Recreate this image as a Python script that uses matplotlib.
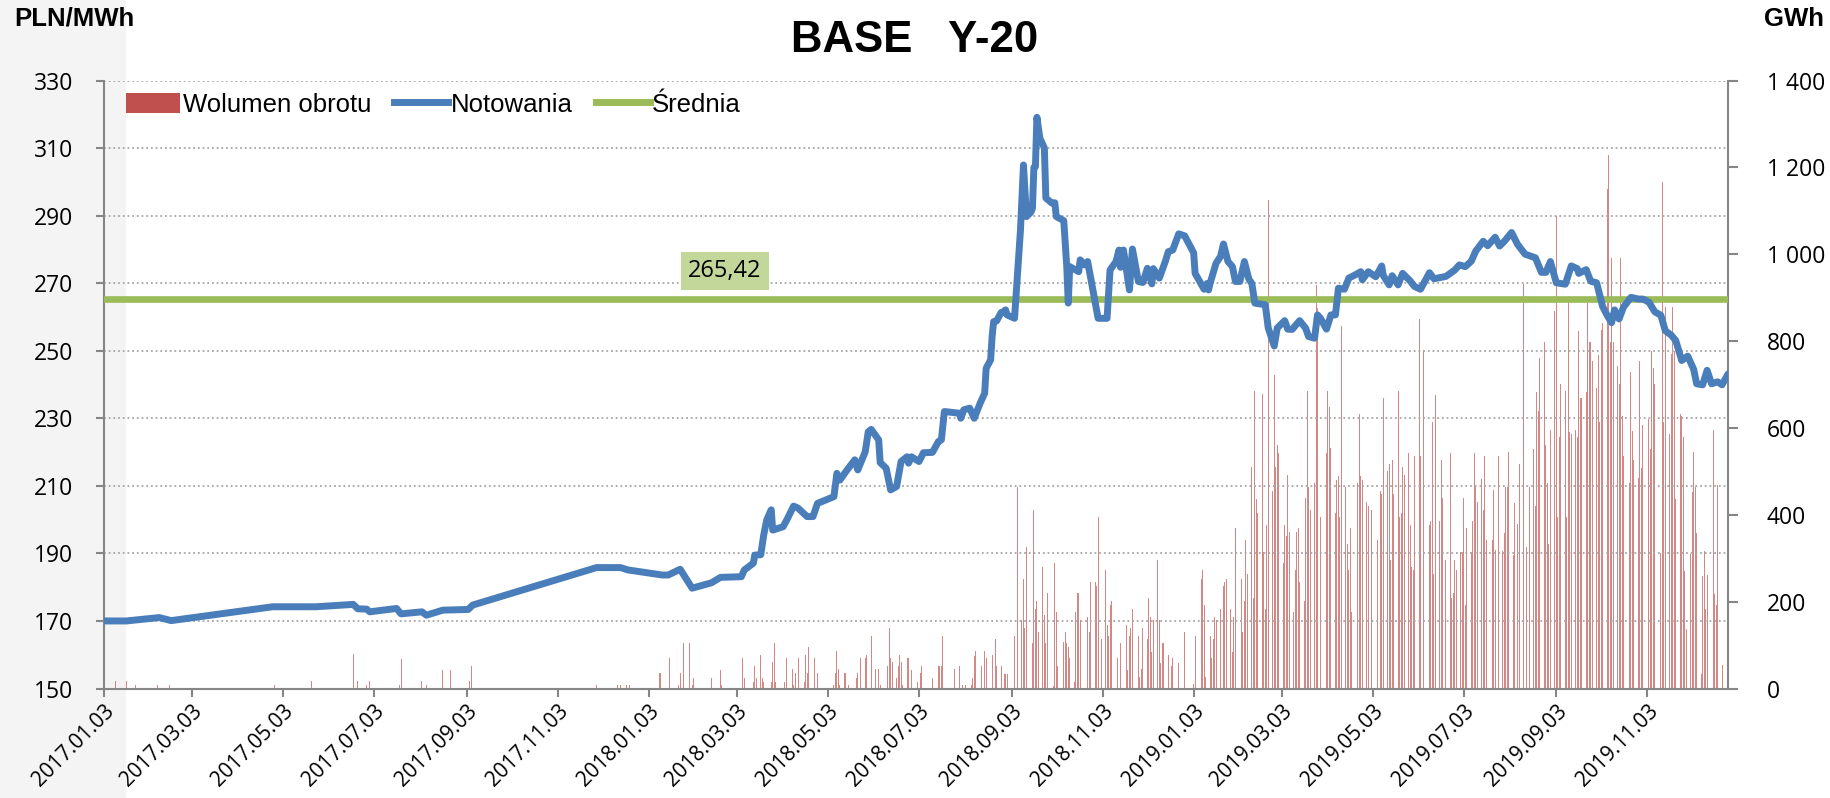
import numpy as np
import pandas as pd
import matplotlib
matplotlib.use('Agg')
import matplotlib.pyplot as plt
import matplotlib.dates as mdates
from matplotlib import font_manager
from matplotlib.lines import Line2D
from matplotlib.patches import Patch, Rectangle
from matplotlib.ticker import FuncFormatter

# Notowania BASE Y-20 [PLN/MWh]
price_dates = [
    '2017-01-03', '2017-01-18', '2017-02-09', '2017-02-17', '2017-04-26', '2017-05-25',
    '2017-06-19', '2017-06-22', '2017-06-28', '2017-06-30', '2017-07-18', '2017-07-21',
    '2017-08-04', '2017-08-07', '2017-08-18', '2017-09-04', '2017-09-07', '2017-11-29',
    '2017-12-15', '2017-12-20', '2018-01-12', '2018-01-16', '2018-01-24', '2018-02-01',
    '2018-02-14', '2018-02-20', '2018-03-06', '2018-03-08', '2018-03-14', '2018-03-15',
    '2018-03-19', '2018-03-21', '2018-03-23', '2018-03-26', '2018-03-27', '2018-04-03',
    '2018-04-06', '2018-04-10', '2018-04-13', '2018-04-19', '2018-04-23', '2018-04-26',
    '2018-05-07', '2018-05-09', '2018-05-11', '2018-05-15', '2018-05-21', '2018-05-23',
    '2018-05-28', '2018-05-30', '2018-06-01', '2018-06-06', '2018-06-07', '2018-06-11',
    '2018-06-14', '2018-06-18', '2018-06-21', '2018-06-25', '2018-06-26', '2018-06-28',
    '2018-07-03', '2018-07-06', '2018-07-12', '2018-07-16', '2018-07-18', '2018-07-20',
    '2018-07-30', '2018-07-31', '2018-08-02', '2018-08-06', '2018-08-09', '2018-08-13',
    '2018-08-16', '2018-08-17', '2018-08-20', '2018-08-21', '2018-08-22', '2018-08-24',
    '2018-08-27', '2018-08-28', '2018-08-30', '2018-08-31', '2018-09-05', '2018-09-07',
    '2018-09-09', '2018-09-11', '2018-09-13', '2018-09-16', '2018-09-17', '2018-09-18',
    '2018-09-19', '2018-09-20', '2018-09-22', '2018-09-25', '2018-09-26', '2018-09-30',
    '2018-10-02', '2018-10-03', '2018-10-08', '2018-10-10', '2018-10-11', '2018-10-12',
    '2018-10-18', '2018-10-19', '2018-10-22', '2018-10-24', '2018-10-31', '2018-11-06',
    '2018-11-08', '2018-11-12', '2018-11-14', '2018-11-15', '2018-11-17', '2018-11-21',
    '2018-11-23', '2018-11-27', '2018-11-30', '2018-12-03', '2018-12-06', '2018-12-07',
    '2018-12-11', '2018-12-15', '2018-12-17', '2018-12-20', '2018-12-24', '2018-12-28',
    '2019-01-03', '2019-01-04', '2019-01-10', '2019-01-12', '2019-01-13', '2019-01-14',
    '2019-01-18', '2019-01-21', '2019-01-23', '2019-01-26', '2019-01-29', '2019-01-31',
    '2019-02-03', '2019-02-06', '2019-02-09', '2019-02-11', '2019-02-13', '2019-02-20',
    '2019-02-22', '2019-02-26', '2019-02-28', '2019-03-05', '2019-03-07', '2019-03-10',
    '2019-03-15', '2019-03-19', '2019-03-21', '2019-03-25', '2019-03-27', '2019-03-29',
    '2019-04-02', '2019-04-05', '2019-04-08', '2019-04-10', '2019-04-14', '2019-04-17',
    '2019-04-21', '2019-04-25', '2019-04-26', '2019-04-30', '2019-05-05', '2019-05-09',
    '2019-05-10', '2019-05-14', '2019-05-16', '2019-05-20', '2019-05-23', '2019-05-28',
    '2019-05-31', '2019-06-04', '2019-06-10', '2019-06-13', '2019-06-21', '2019-06-27',
    '2019-06-30', '2019-07-04', '2019-07-08', '2019-07-11', '2019-07-16', '2019-07-19',
    '2019-07-24', '2019-07-27', '2019-07-30', '2019-08-04', '2019-08-08', '2019-08-13',
    '2019-08-20', '2019-08-24', '2019-08-27', '2019-08-30', '2019-09-03', '2019-09-09',
    '2019-09-13', '2019-09-17', '2019-09-18', '2019-09-23', '2019-09-26', '2019-09-30',
    '2019-10-04', '2019-10-07', '2019-10-10', '2019-10-12', '2019-10-15', '2019-10-18',
    '2019-10-23', '2019-10-28', '2019-10-31', '2019-11-04', '2019-11-08', '2019-11-12',
    '2019-11-15', '2019-11-19', '2019-11-22', '2019-11-26', '2019-11-30', '2019-12-04',
    '2019-12-06', '2019-12-10', '2019-12-13', '2019-12-16', '2019-12-20', '2019-12-23',
    '2019-12-27',
]
price_vals = [
    170.0, 170.0, 171.0, 170.1, 174.2, 174.2,
    174.9, 173.6, 173.5, 172.7, 173.7, 172.1,
    172.7, 171.7, 173.2, 173.4, 174.7, 185.8,
    185.8, 185.1, 183.6, 183.6, 185.3, 179.7,
    181.3, 182.9, 183.1, 185.1, 187.1, 189.5,
    189.6, 195.5, 199.9, 202.9, 196.9, 197.9,
    200.4, 204.0, 203.4, 200.9, 200.9, 204.8,
    206.8, 213.7, 211.7, 214.2, 217.7, 214.7,
    220.1, 226.0, 226.7, 223.6, 216.9, 215.2,
    208.8, 209.8, 217.2, 218.6, 216.7, 218.6,
    217.2, 219.8, 219.9, 223.1, 223.6, 232.0,
    231.5, 230.0, 232.5, 233.0, 230.0, 234.5,
    237.4, 244.8, 247.3, 254.2, 258.6, 258.8,
    261.3, 261.3, 262.1, 260.6, 259.6, 272.5,
    285.8, 305.0, 289.7, 291.0, 292.2, 304.3,
    304.5, 319.1, 312.9, 310.0, 295.2, 293.7,
    293.8, 289.7, 288.5, 274.9, 264.1, 274.9,
    273.4, 276.9, 275.4, 276.4, 259.6, 259.6,
    273.9, 276.4, 279.8, 274.7, 279.8, 268.0,
    280.1, 270.5, 270.2, 274.4, 269.8, 274.3,
    271.5, 276.4, 279.3, 279.8, 284.6, 284.0,
    279.0, 272.9, 268.2, 269.9, 268.0, 269.9,
    275.9, 277.9, 281.6, 276.4, 274.9, 270.5,
    270.5, 276.4, 271.2, 269.9, 264.1, 263.6,
    256.7, 251.4, 256.7, 258.9, 256.4, 256.3,
    258.9, 256.7, 254.2, 253.7, 260.6, 259.6,
    256.4, 260.6, 260.6, 268.5, 268.2, 271.5,
    272.4, 273.4, 271.0, 273.4, 271.9, 275.1,
    272.3, 269.5, 272.2, 269.5, 272.9, 270.7,
    269.0, 268.2, 273.1, 271.3, 272.0, 273.9,
    275.4, 274.9, 276.5, 279.5, 282.4, 281.1,
    283.6, 281.0, 282.3, 285.0, 281.5, 278.6,
    277.5, 273.2, 273.2, 276.4, 270.1, 269.7,
    275.1, 274.3, 272.9, 274.0, 270.6, 270.1,
    263.1, 260.5, 258.3, 262.1, 259.4, 262.9,
    265.8, 265.3, 265.3, 264.4, 261.5, 260.5,
    255.9, 254.6, 253.0, 247.1, 248.4, 244.5,
    240.2, 239.9, 244.2, 240.2, 240.8, 239.9,
    243.1,
]
avg_price = 265.42

# Wolumen obrotu [GWh] - okres z pojedynczymi transakcjami
sparse_dates = [
    '2017-01-03', '2017-01-11', '2017-01-18', '2017-01-24', '2017-02-08', '2017-02-16',
    '2017-04-27', '2017-05-22', '2017-06-19', '2017-06-22', '2017-06-28', '2017-06-30',
    '2017-07-20', '2017-07-21', '2017-08-04', '2017-08-07', '2017-08-18', '2017-08-23',
    '2017-09-05', '2017-09-06', '2017-11-29', '2017-12-13', '2017-12-15', '2017-12-19',
    '2017-12-21', '2018-01-10', '2018-01-11', '2018-01-17', '2018-01-23', '2018-01-24',
    '2018-01-26', '2018-01-30', '2018-02-01', '2018-02-02', '2018-02-14', '2018-02-15',
    '2018-02-20', '2018-02-21', '2018-03-07', '2018-03-08', '2018-03-14', '2018-03-15',
    '2018-03-16', '2018-03-19', '2018-03-20', '2018-03-21', '2018-03-26', '2018-03-27',
    '2018-03-28', '2018-03-29', '2018-04-04', '2018-04-05', '2018-04-09', '2018-04-10',
    '2018-04-11', '2018-04-13', '2018-04-17', '2018-04-18', '2018-04-19', '2018-04-20',
    '2018-04-24', '2018-04-25', '2018-04-26', '2018-05-07', '2018-05-08', '2018-05-09',
    '2018-05-10', '2018-05-11', '2018-05-14', '2018-05-15', '2018-05-17', '2018-05-22',
    '2018-05-23', '2018-05-25', '2018-05-28', '2018-05-29', '2018-06-01', '2018-06-04',
    '2018-06-06', '2018-06-07', '2018-06-12', '2018-06-13', '2018-06-14', '2018-06-15',
    '2018-06-18', '2018-06-19', '2018-06-20', '2018-06-21', '2018-06-22', '2018-06-25',
    '2018-06-26', '2018-06-28', '2018-07-02', '2018-07-04', '2018-07-05', '2018-07-12',
    '2018-07-16', '2018-07-17', '2018-07-18', '2018-07-19', '2018-07-27', '2018-07-30',
    '2018-08-01', '2018-08-03', '2018-08-07', '2018-08-08', '2018-08-09', '2018-08-10',
    '2018-08-14', '2018-08-16', '2018-08-17', '2018-08-21', '2018-08-23', '2018-08-24',
]
sparse_vol = [
    8, 17, 17, 8, 8, 8,
    8, 17, 79, 17, 8, 17,
    8, 69, 17, 8, 43, 43,
    17, 52, 8, 8, 8, 8,
    8, 35, 35, 70, 8, 35,
    104, 104, 8, 25, 25, 52,
    43, 8, 70, 25, 16, 52,
    25, 78, 25, 16, 16, 61,
    104, 16, 16, 70, 45, 8,
    35, 70, 16, 78, 35, 95,
    70, 25, 35, 8, 35, 87,
    45, 8, 35, 35, 8, 25,
    35, 70, 70, 78, 121, 45,
    45, 8, 52, 139, 70, 61,
    25, 52, 78, 61, 8, 70,
    70, 43, 16, 35, 52, 25,
    52, 52, 52, 121, 45, 52,
    8, 8, 8, 25, 75, 87,
    52, 87, 70, 78, 114, 51,
]

# Wolumen w kolejnych dniach roboczych (pon-pt), 0 = brak obrotu
vol_start_1 = '2018-08-27'
vol_1 = [
    51, 0, 34, 34, 34,      0, 0, 121, 253, 465,     157, 253, 139, 325, 0,
    105, 411, 184, 201, 131,  280, 169, 105, 219, 0,   6, 289, 176, 51, 0,
    107, 131, 105, 96, 70,   16, 176, 219, 219, 157,   0, 0, 165, 131, 245,
    245, 237, 395, 0, 113,   272, 147, 121, 192, 201,   0, 70, 129, 105, 96,
    147, 42, 121, 139, 184,  0, 121, 26, 44, 139,     113, 209, 165, 85, 157,
    297, 157, 59, 105, 105,  78, 0, 51, 70, 0,         59, 0, 0, 0, 131,
    0, 0, 0, 10, 121,        0, 253, 272, 192, 26,     121, 70, 113, 165, 157,
    184, 227, 237, 245, 253, 184, 85, 165, 369, 0,     253, 131, 201, 341, 264,
]
vol_start_2 = '2019-02-11'
vol_2 = [
    509, 209, 685, 437, 403,  677, 315, 184, 377, 1124,  455, 721, 509, 561, 543,
    289, 377, 352, 491, 360,  176, 272, 360, 369, 245,   201, 439, 685, 465, 412,
    473, 930, 876, 535, 395,  578, 543, 685, 649, 553,   403, 481, 489, 395, 834,
    465, 333, 272, 369, 176,  0, 473, 631, 489, 481,     429, 421, 0, 412, 0,
    341, 0, 455, 447, 668,    500, 517, 297, 527, 447,   685, 395, 405, 509, 491,
    543, 377, 280, 272, 535,  851, 535, 473, 779, 395,   377, 385, 613, 264, 676,
    385, 527, 439, 0, 297,    543, 209, 219, 297, 272,   315, 315, 439, 192, 369,
    315, 385, 543, 465, 429,  483, 412, 535, 341, 0,
]
vol_start_3 = '2019-07-22'
vol_3 = [
    341, 457, 320, 0, 536,    316, 358, 465, 465, 544,   308, 428, 0, 378, 517,
    931, 745, 325, 0, 465,    552, 420, 682, 639, 762,   798, 561, 474, 333, 596,
    869, 1088, 395, 580, 701, 685, 395, 889, 590, 585,   596, 580, 823, 668, 668,
    682, 888, 797, 798, 755,  693, 768, 614, 826, 842,   1150, 1229, 798, 991, 797,
    743, 701, 991, 627, 536,  469, 474, 729, 594, 527,   484, 755, 507, 606, 0,
    621, 552, 778, 739, 701,  0, 312, 1167, 614, 878,    585, 770, 879, 776, 436,
    631, 627, 580, 271, 138,  310, 453, 544, 465, 359,   33, 260, 316, 184, 262,
    0, 596, 217, 192, 469,    55, 0, 0, 0, 0,
]

tick_dates = [
    '2017-01-03', '2017-03-03', '2017-05-03', '2017-07-03', '2017-09-03', '2017-11-03',
    '2018-01-03', '2018-03-03', '2018-05-03', '2018-07-03', '2018-09-03', '2018-11-03',
    '2019-01-03', '2019-03-03', '2019-05-03', '2019-07-03', '2019-09-03', '2019-11-03',
]

C_BAR = '#c0504d'
C_LINE = '#4a7ebb'
C_AVG = '#9bbb59'
C_AXIS = '#868686'

installed = {f.name for f in font_manager.fontManager.ttflist}


def pick_font(*names):
    for n in names:
        if n in installed:
            return n
    return 'DejaVu Sans'


F_NARROW = pick_font('Liberation Sans Narrow', 'Liberation Sans')
F_TEXT = pick_font('Liberation Sans', 'Arial', 'DejaVu Sans')
F_TICK = pick_font('Open Sans', 'Noto Sans', 'DejaVu Sans')

# zbiorcza seria wolumenu
vol_x = list(pd.to_datetime(sparse_dates))
vol_y = list(sparse_vol)
for start, vals in [(vol_start_1, vol_1), (vol_start_2, vol_2), (vol_start_3, vol_3)]:
    days = pd.bdate_range(start, periods=len(vals))
    vol_x += list(days)
    vol_y += list(vals)
vol_x = pd.DatetimeIndex(vol_x)
vol_y = np.array(vol_y, dtype=float)

W, H = 1830, 798
fig = plt.figure(figsize=(W / 100, H / 100), dpi=100)
fig.patches.append(Rectangle((0, 0), 126 / W, 1, transform=fig.transFigure,
                             facecolor='#f4f4f4', edgecolor='none', zorder=-5))

ax = fig.add_axes([104 / W, 1 - 688.5 / H, (1728 - 104) / W, (688.5 - 80.5) / H])
ax2 = ax.twinx()
ax.set_zorder(2)
ax2.set_zorder(1)
ax.patch.set_visible(False)
ax2.patch.set_visible(False)

# słupki wolumenu (prawa oś)
ax2.bar(vol_x, vol_y, width=0.65, color=C_BAR, linewidth=0, alpha=0.68)
ax2.set_ylim(0, 1400)
ax2.set_yticks(range(0, 1401, 200))
ax2.yaxis.set_major_formatter(FuncFormatter(lambda v, p: f'{int(v):,}'.replace(',', ' ')))

# notowania i średnia (lewa oś)
ax.plot(pd.to_datetime(price_dates), price_vals, color=C_LINE, lw=5.0,
        solid_joinstyle='round', solid_capstyle='round', zorder=4)
ax.axhline(avg_price, color=C_AVG, lw=4.8, zorder=3)
ax.set_ylim(150, 330)
ax.set_yticks(range(150, 331, 20))
ax.set_xlim(pd.Timestamp('2017-01-03'), pd.Timestamp('2019-12-27'))
ax.set_xticks(pd.to_datetime(tick_dates))
ax.xaxis.set_major_formatter(mdates.DateFormatter('%Y.%m.%d'))

ax.set_axisbelow(True)
ax.yaxis.grid(True, linestyle=(0, (1, 1.6)), color='#a6a6a6', lw=1.3)
ax.xaxis.grid(False)

for a in (ax, ax2):
    for s in a.spines.values():
        s.set_visible(False)
        s.set_color(C_AXIS)
        s.set_linewidth(1.5)
ax.spines['left'].set_visible(True)
ax.spines['bottom'].set_visible(True)
ax2.spines['right'].set_visible(True)

ax.tick_params(axis='y', length=6, width=1.5, color=C_AXIS, pad=16, labelsize=16.5)
ax2.tick_params(axis='y', length=7, width=1.5, color=C_AXIS, pad=21, labelsize=16.5)
ax.tick_params(axis='x', length=6, width=1.5, color=C_AXIS, pad=3, labelsize=15)
for lab in ax.get_yticklabels() + ax2.get_yticklabels() + ax.get_xticklabels():
    lab.set_fontfamily(F_TICK)
for lab in ax.get_xticklabels():
    lab.set_rotation(45)
    lab.set_ha('right')
    lab.set_va('top')
    lab.set_rotation_mode('anchor')

# etykieta wartości średniej
ax.annotate(f'{avg_price:.2f}'.replace('.', ','), xy=(pd.Timestamp('2018-02-23'), avg_price),
            xytext=(0, 11), textcoords='offset points', ha='center', va='bottom',
            fontsize=17, family=F_TICK, zorder=6,
            bbox=dict(boxstyle='square,pad=0.3', facecolor='#c4d79b', edgecolor='none'))

# tytuł i jednostki osi
fig.text(0.5, 1 - 41 / H, 'BASE   Y-20', ha='center', va='center', fontsize=31.5,
         fontweight='bold', family=F_NARROW)
fig.text(14 / W, 1 - 19 / H, 'PLN/MWh', ha='left', va='center', fontsize=18.5,
         fontweight='bold', family=F_TEXT)
fig.text(1764 / W, 1 - 19 / H, 'GWh', ha='left', va='center', fontsize=18.5,
         fontweight='bold', family=F_TEXT)

handles = [Patch(facecolor=C_BAR, edgecolor='none'),
           Line2D([], [], color=C_LINE, lw=5.0),
           Line2D([], [], color=C_AVG, lw=5.0)]
fig.legend(handles, ['Wolumen obrotu', 'Notowania', 'Średnia'], loc='upper left',
           bbox_to_anchor=(126 / W, 1 - 92.5 / H), ncol=3, frameon=False,
           borderpad=0, borderaxespad=0, handlelength=2.1, handleheight=0.85,
           handletextpad=0.1, columnspacing=0.9,
           prop={'family': F_TEXT, 'size': 18.5})

fig.savefig('out.png', dpi=100)
